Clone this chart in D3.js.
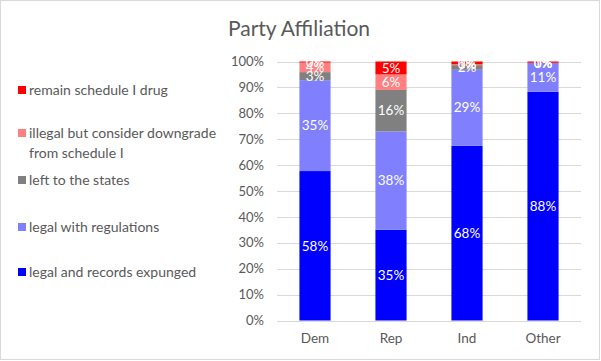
<!DOCTYPE html>
<html>
<head>
<meta charset="utf-8">
<script src="https://cdn.jsdelivr.net/npm/d3@7"></script>
<style>
  body { margin: 0; background: #fff; }
  svg { display: block; }
  text { font-family: Lato, "Open Sans", sans-serif; }
</style>
</head>
<body>
<div id="chart"></div>
<script>
const categories = ["Dem", "Rep", "Ind", "Other"];
const seriesNames = [
  "legal and records expunged",
  "legal with regulations",
  "left to the states",
  "illegal but consider downgrade from schedule I",
  "remain schedule I drug"
];
const expunged   = [57.7, 35.0, 67.5, 88.3];
const regulations= [35.1, 38.0, 29.3, 11.2];
const states     = [3.1, 16.0, 1.8, 0.0];
const downgrade  = [3.7, 6.0, 0.3, 0.0];
const remain     = [0.4, 5.0, 1.1, 0.5];
const yTicks = [0, 10, 20, 30, 40, 50, 60, 70, 80, 90, 100];
const colors = ["#0000FF", "#8080FF", "#808080", "#FF8080", "#FF0000"];
const legendLines = [
  ["remain schedule I drug"],
  ["illegal but consider downgrade", "from schedule I"],
  ["left to the states"],
  ["legal with regulations"],
  ["legal and records expunged"]
];

const W = 601, H = 361;
const svg = d3.select("#chart").append("svg").attr("width", W).attr("height", H);

svg.append("rect").attr("x", 0.5).attr("y", 0.5).attr("width", W - 2).attr("height", H - 2)
  .attr("fill", "#fff").attr("stroke", "#D9D9D9");

svg.append("text").attr("x", 299).attr("y", 36).attr("text-anchor", "middle")
  .attr("font-size", 21).attr("fill", "#595959").text("Party Affiliation");

const x = d3.scaleBand().domain(categories).range([277, 581]).paddingInner(0.59).paddingOuter(0.295);
const y = d3.scaleLinear().domain([0, 100]).range([320.5, 61.5]);

// gridlines
svg.append("g").selectAll("line").data(yTicks).join("line")
  .attr("x1", 277).attr("x2", 581)
  .attr("y1", d => Math.round(y(d)) + 0.5).attr("y2", d => Math.round(y(d)) + 0.5)
  .attr("stroke", "#D9D9D9").attr("stroke-width", 1);

// y axis labels
const yAxis = d3.axisLeft(y).tickValues(yTicks).tickFormat(d => d + "%").tickSize(0).tickPadding(0);
const yg = svg.append("g").attr("transform", "translate(264,0)").call(yAxis);
yg.select(".domain").remove();
yg.selectAll("text").attr("font-size", 13).attr("fill", "#595959").attr("font-family", "Lato, sans-serif");

// x axis labels
const xAxis = d3.axisBottom(x).tickSize(0).tickPadding(0);
const xg = svg.append("g").attr("transform", "translate(0,333)").call(xAxis);
xg.select(".domain").remove();
xg.selectAll("text").attr("font-size", 13.5).attr("fill", "#595959").attr("font-family", "Lato, sans-serif");

const seriesArrays = [expunged, regulations, states, downgrade, remain];
const rows = categories.map((c, i) => {
  const r = { cat: c };
  seriesNames.forEach((s, k) => r[s] = seriesArrays[k][i]);
  return r;
});
const stack = d3.stack().keys(seriesNames)(rows);

const layers = svg.append("g").selectAll("g").data(stack).join("g")
  .attr("fill", (d, i) => colors[i]);
layers.selectAll("rect").data(d => d).join("rect")
  .attr("x", d => x(d.data.cat))
  .attr("width", x.bandwidth())
  .attr("y", d => y(d[1]))
  .attr("height", d => y(d[0]) - y(d[1]));

// data labels
const labG = svg.append("g");
stack.forEach((layer) => {
  layer.forEach(d => {
    const v = d[1] - d[0];
    labG.append("text")
      .attr("x", x(d.data.cat) + x.bandwidth() / 2)
      .attr("y", (y(d[0]) + y(d[1])) / 2)
      .attr("dy", "0.35em")
      .attr("text-anchor", "middle")
      .attr("font-size", 13.5)
      .attr("fill", "#fff")
      .text(Math.round(v) + "%");
  });
});

// legend
const legendY = [90, 133, 180, 227, 272];
const lg = svg.append("g");
legendLines.forEach((lines, i) => {
  const colorIdx = 4 - i;
  lg.append("rect").attr("x", 18).attr("y", legendY[i] - 4).attr("width", 8).attr("height", 8)
    .attr("fill", colors[colorIdx]);
  lines.forEach((t, j) => {
    lg.append("text").attr("x", 29).attr("y", legendY[i] + j * 20).attr("dy", "0.35em")
      .attr("font-size", 14).attr("fill", "#595959").text(t);
  });
});
</script>
</body>
</html>
